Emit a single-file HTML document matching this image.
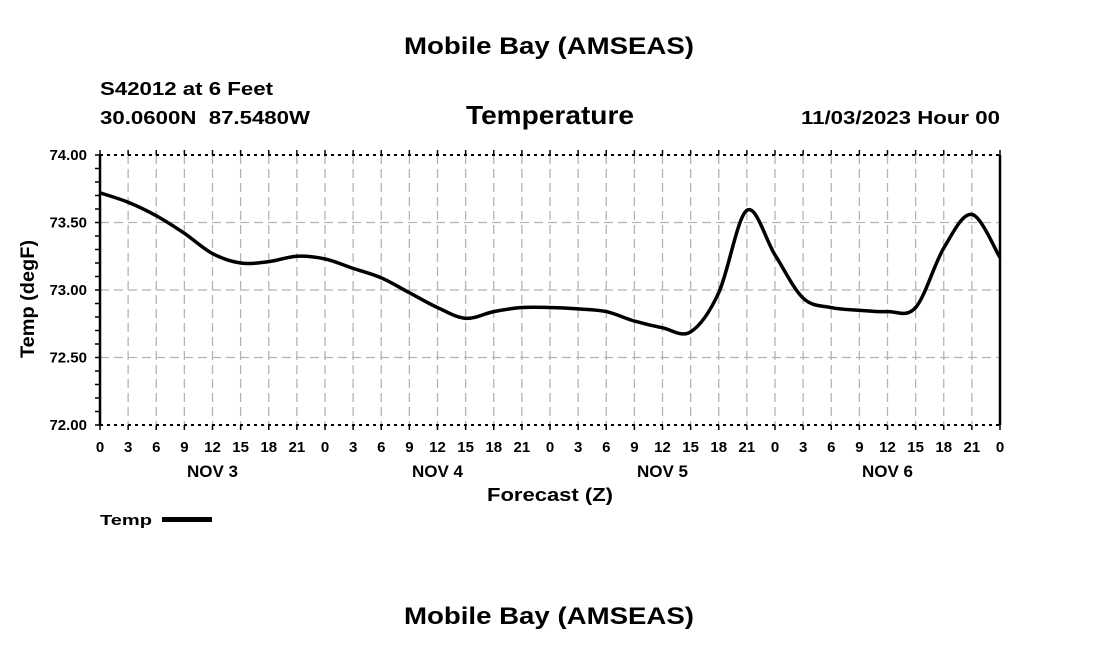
<!DOCTYPE html>
<html><head><meta charset="utf-8"><style>
body{margin:0;background:#fff;}
svg text{font-family:"Liberation Sans",sans-serif;font-weight:bold;fill:#000;}
</style></head><body>
<svg id="chart" width="1100" height="650" xmlns="http://www.w3.org/2000/svg">
<rect width="1100" height="650" fill="#fff"/>
<text x="404" y="54" font-size="24" textLength="290" lengthAdjust="spacingAndGlyphs">Mobile Bay (AMSEAS)</text>
<text x="100" y="95" font-size="18" textLength="173" lengthAdjust="spacingAndGlyphs">S42012 at 6 Feet</text>
<text x="100" y="124" font-size="18" textLength="210" lengthAdjust="spacingAndGlyphs">30.0600N&#160;&#160;87.5480W</text>
<text x="466" y="124" font-size="26" textLength="168" lengthAdjust="spacingAndGlyphs">Temperature</text>
<text x="801" y="124" font-size="18" textLength="199" lengthAdjust="spacingAndGlyphs">11/03/2023 Hour 00</text>
<g id="grid"></g>
<g id="axes"></g>
<path id="line" fill="none" stroke="#000" stroke-width="3.5" stroke-linejoin="round"/>
<text transform="translate(34,358) rotate(-90)" font-size="19" textLength="118" lengthAdjust="spacingAndGlyphs">Temp (degF)</text>
<text x="487" y="501" font-size="18" textLength="126" lengthAdjust="spacingAndGlyphs">Forecast (Z)</text>
<g>
<text x="100" y="525" font-size="15" textLength="52" lengthAdjust="spacingAndGlyphs">Temp</text>
<rect x="162" y="517" width="50" height="5" fill="#000"/>
</g>
<text x="404" y="624" font-size="24" textLength="290" lengthAdjust="spacingAndGlyphs">Mobile Bay (AMSEAS)</text>
</svg>
<script>
const hours=[0,3,6,9,12,15,18,21,24,27,30,33,36,39,42,45,48,51,54,57,60,63,66,69,72,75,78,81,84,87,90,93,96];
const temps=[73.72,73.65,73.55,73.42,73.27,73.20,73.21,73.25,73.23,73.16,73.09,72.98,72.87,72.79,72.84,72.87,72.87,72.86,72.84,72.77,72.72,72.69,72.98,73.59,73.26,72.94,72.87,72.85,72.84,72.87,73.31,73.56,73.24];
const yTicks=[72.00,72.50,73.00,73.50,74.00];
const dayLabels=["NOV 3","NOV 4","NOV 5","NOV 6"];
const X0=100,X1=1000,Y0=155,Y1=425,HMAX=96,VMIN=72,VMAX=74;
const sx=h=>X0+(h/HMAX)*(X1-X0);
const sy=v=>Y1-(v-VMIN)/(VMAX-VMIN)*(Y1-Y0);
const NS="http://www.w3.org/2000/svg";
function mk(tag,attrs,parent){const e=document.createElementNS(NS,tag);for(const k in attrs)e.setAttribute(k,attrs[k]);parent.appendChild(e);return e;}
const grid=document.getElementById('grid'),axes=document.getElementById('axes');
for(let h=3;h<HMAX;h+=3){
 const l=mk('line',{x1:sx(h),x2:sx(h),y1:Y0,y2:Y1,stroke:'#b4b4b4','stroke-width':1.3,'stroke-dasharray':'9,5'},grid);
 
 
}
yTicks.forEach(v=>{
 if(v>VMIN&&v<VMAX){const l=mk('line',{x1:X0,x2:X1,y1:sy(v),y2:sy(v),stroke:'#b4b4b4','stroke-width':1.3,'stroke-dasharray':'9,5'},grid);
 
 }
 const t=mk('text',{x:87,y:sy(v)+5,'font-size':15,'text-anchor':'end'},axes);t.textContent=v.toFixed(2);
 
 
});
for(let v=VMIN;v<=VMAX+1e-9;v+=0.1){mk('line',{x1:X0-5,x2:X0,y1:sy(v),y2:sy(v),stroke:'#000','stroke-width':1.5},axes);}
mk('line',{x1:X0,x2:X1,y1:Y0,y2:Y0,stroke:'#000','stroke-width':2,'stroke-dasharray':'3,4'},axes);
mk('line',{x1:X0,x2:X1,y1:Y1,y2:Y1,stroke:'#000','stroke-width':2,'stroke-dasharray':'3,4'},axes);
mk('line',{x1:X0,x2:X0,y1:Y0,y2:Y1,stroke:'#000','stroke-width':2.5},axes);
mk('line',{x1:X1,x2:X1,y1:Y0,y2:Y1,stroke:'#000','stroke-width':2.5},axes);
for(let h=0;h<=HMAX;h+=3){
 mk('line',{x1:sx(h),x2:sx(h),y1:Y0-5,y2:Y0,stroke:'#000','stroke-width':1.5},axes);
 mk('line',{x1:sx(h),x2:sx(h),y1:Y1,y2:Y1+5,stroke:'#000','stroke-width':1.5},axes);
 const t=mk('text',{x:sx(h),y:452,'font-size':15,'text-anchor':'middle'},axes);t.textContent=String(h%24);
 
 
}
dayLabels.forEach((d,i)=>{const t=mk('text',{x:sx(i*24+12),y:477,'font-size':17,'text-anchor':'middle'},axes);t.textContent=d;
 
 });
const P=hours.map((h,i)=>[sx(h),sy(temps[i])]);
let d='M'+P[0][0]+','+P[0][1];
for(let i=0;i<P.length-1;i++){
 const p0=P[Math.max(0,i-1)],p1=P[i],p2=P[i+1],p3=P[Math.min(P.length-1,i+2)];
 const c1=[p1[0]+(p2[0]-p0[0])/6,p1[1]+(p2[1]-p0[1])/6],c2=[p2[0]-(p3[0]-p1[0])/6,p2[1]-(p3[1]-p1[1])/6];
 d+=` C${c1[0]},${c1[1]} ${c2[0]},${c2[1]} ${p2[0]},${p2[1]}`;
}
document.getElementById('line').setAttribute('d',d);
</script>
</body></html>
